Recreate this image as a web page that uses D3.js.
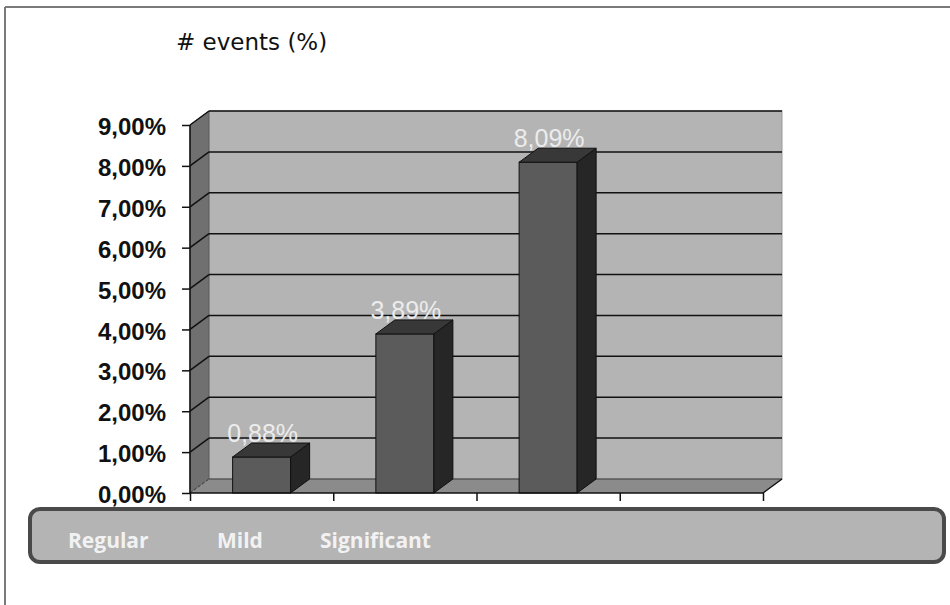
<!DOCTYPE html>
<html>
<head>
<meta charset="utf-8">
<script src="https://cdn.jsdelivr.net/npm/d3@7"></script>
<style>
  html, body { margin: 0; padding: 0; background: #fff; }
  svg { display: block; }
</style>
</head>
<body>
<svg id="chart" width="950" height="605"></svg>
<script>
// ---- data ----
const title = "# events (%)";
const categories = ["Regular", "Mild", "Significant"];
const values = [0.88, 3.89, 8.09];           // percent
const slotCount = 4;                          // category slots on the x axis (last one empty)
const yTicks = [0, 1, 2, 3, 4, 5, 6, 7, 8, 9]; // percent

// ---- layout ----
const W = 950, H = 605;
const x0 = 190, x1 = 763;     // front plane x range
const yBottom = 493, yTop = 125;
const dx = 19, dy = 14;       // 3D depth offset

const svg = d3.select("#chart");
const locale = d3.formatLocale({ decimal: ",", thousands: ".", grouping: [3], currency: ["", "€"] });
const fmt2 = locale.format(".2f");
const pct = v => fmt2(v) + "%";

const x = d3.scaleBand().domain(d3.range(slotCount)).range([x0, x1]).padding(0);
const y = d3.scaleLinear().domain([0, 9]).range([yBottom, yTop]);
const barW = x.bandwidth() * 0.405;

// frame lines
svg.append("line").attr("x1", 5).attr("y1", 7).attr("x2", W).attr("y2", 7)
  .attr("stroke", "#7a7a7a").attr("stroke-width", 2);
svg.append("line").attr("x1", 5).attr("y1", 7).attr("x2", 5).attr("y2", H)
  .attr("stroke", "#7a7a7a").attr("stroke-width", 2);

// title
svg.append("text").attr("x", 176).attr("y", 50)
  .attr("font-family", "DejaVu Sans, Verdana, sans-serif").attr("font-size", 23)
  .attr("fill", "#111").text(title);

const y0 = y(0), yMax = y(9);
const poly = pts => pts.map(p => p.join(",")).join(" ");

// back wall
svg.append("rect").attr("x", x0 + dx).attr("y", yMax - dy)
  .attr("width", x1 - x0).attr("height", y0 - yMax)
  .attr("fill", "#b4b4b4").attr("stroke", "#9a9a9a").attr("stroke-width", 1);
// side wall
svg.append("polygon").attr("points", poly([[x0, yMax], [x0 + dx, yMax - dy], [x0 + dx, y0 - dy], [x0, y0]]))
  .attr("fill", "#707070").attr("stroke", "#555").attr("stroke-width", 0.8);
// floor
svg.append("polygon").attr("points", poly([[x0, y0], [x1, y0], [x1 + dx, y0 - dy], [x0 + dx, y0 - dy]]))
  .attr("fill", "#8b8b8b");
svg.append("line").attr("x1", x0 + dx).attr("y1", y0 - dy).attr("x2", x1 + dx).attr("y2", y0 - dy)
  .attr("stroke", "#3a3a3a").attr("stroke-width", 1.2);
svg.append("line").attr("x1", x0).attr("y1", y0).attr("x2", x0 + dx).attr("y2", y0 - dy)
  .attr("stroke", "#333").attr("stroke-width", 1).attr("stroke-dasharray", "3,2");
svg.append("line").attr("x1", x1).attr("y1", y0).attr("x2", x1 + dx).attr("y2", y0 - dy)
  .attr("stroke", "#111").attr("stroke-width", 1.5);

// gridlines
const grid = svg.append("g").attr("stroke", "#111").attr("stroke-width", 1.5).attr("fill", "none");
yTicks.filter(t => t > 0).forEach(t => {
  grid.append("line").attr("x1", x0 + dx).attr("y1", y(t) - dy).attr("x2", x1 + dx).attr("y2", y(t) - dy);
  grid.append("line").attr("x1", x0).attr("y1", y(t)).attr("x2", x0 + dx).attr("y2", y(t) - dy);
});

// bars
const bars = svg.append("g").selectAll("g").data(values).join("g");
const bx = (d, i) => x(i) + (x.bandwidth() - barW) / 2;
bars.append("rect")
  .attr("x", bx).attr("y", d => y(d)).attr("width", barW).attr("height", d => y0 - y(d))
  .attr("fill", "#5b5b5b").attr("stroke", "#111").attr("stroke-width", 1);
bars.append("polygon")
  .attr("points", (d, i) => { const l = bx(d, i) + barW; return poly([[l, y(d)], [l + dx, y(d) - dy], [l + dx, y0 - dy], [l, y0]]); })
  .attr("fill", "#262626").attr("stroke", "#111").attr("stroke-width", 1);
bars.append("polygon")
  .attr("points", (d, i) => { const l = bx(d, i); return poly([[l, y(d)], [l + dx, y(d) - dy], [l + barW + dx, y(d) - dy], [l + barW, y(d)]]); })
  .attr("fill", "#383838").attr("stroke", "#111").attr("stroke-width", 1);
bars.append("text")
  .attr("x", (d, i) => x(i) + x.bandwidth() / 2 + 1)
  .attr("y", d => y(d) - dy - 1)
  .attr("text-anchor", "middle")
  .attr("font-family", "Liberation Sans, Arial, sans-serif").attr("font-size", 25)
  .attr("fill", "#ececec").text(d => pct(d));

// y axis
const yAxis = svg.append("g").attr("transform", `translate(${x0},0)`)
  .call(d3.axisLeft(y).tickValues(yTicks).tickSize(8).tickPadding(16).tickFormat(pct));
yAxis.select(".domain").attr("stroke", "#111").attr("stroke-width", 1.5).attr("d", `M-0,${yMax}V${y0}`);
yAxis.selectAll(".tick line").attr("stroke", "#111").attr("stroke-width", 1.5);
yAxis.selectAll(".tick text")
  .attr("font-family", "Liberation Sans, Arial, sans-serif").attr("font-size", 24).attr("font-weight", "bold")
  .attr("fill", "#111").attr("dy", "0.9em").attr("y", -12);

// x axis (front edge with slot ticks)
const xEdge = d3.scaleLinear().domain([0, slotCount]).range([x0, x1]);
const xAxis = svg.append("g").attr("transform", `translate(0,${y0})`)
  .call(d3.axisBottom(xEdge).tickValues(d3.range(slotCount + 1)).tickSize(8).tickFormat(""));
xAxis.select(".domain").attr("stroke", "#111").attr("stroke-width", 1.5).attr("d", `M${x0},0H${x1}`);
xAxis.selectAll(".tick line").attr("stroke", "#111").attr("stroke-width", 1.5);

// category box
svg.append("rect").attr("x", 30).attr("y", 509).attr("width", 914).attr("height", 53).attr("rx", 10)
  .attr("fill", "#b4b4b4").attr("stroke", "#4a4a4a").attr("stroke-width", 4);
const legendX = d3.scaleOrdinal().domain(categories).range([68, 217, 320]);
svg.append("g").selectAll("text").data(categories).join("text")
  .attr("x", d => legendX(d)).attr("y", 548)
  .attr("font-family", "Open Sans, sans-serif").attr("font-size", 21).attr("font-weight", "bold")
  .attr("fill", "#f2f2f2").text(d => d);
</script>
</body>
</html>
